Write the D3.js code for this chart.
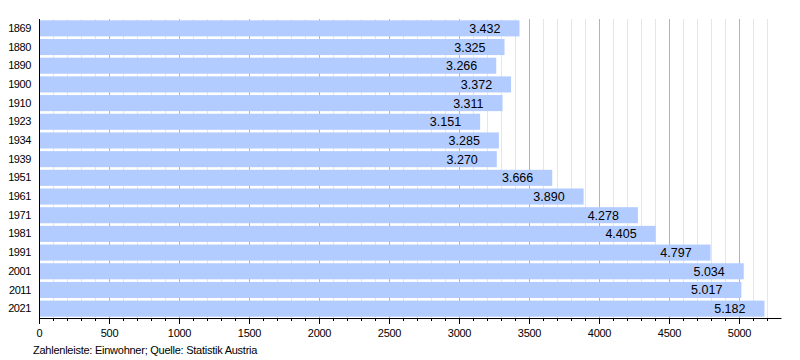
<!DOCTYPE html>
<html><head><meta charset="utf-8">
<script src="https://cdn.jsdelivr.net/npm/d3@7"></script>
<style>body{margin:0;background:#fff}svg{display:block;font-family:"Liberation Sans",Arial,sans-serif}</style>
</head><body>
<svg id="c" width="800" height="360"></svg>
<script>
const years = ["1869","1880","1890","1900","1910","1923","1934","1939","1951","1961","1971","1981","1991","2001","2011","2021"];
const population = [3432,3325,3266,3372,3311,3151,3285,3270,3666,3890,4278,4405,4797,5034,5017,5182];
const majorTicks = [0,500,1000,1500,2000,2500,3000,3500,4000,4500,5000];
const footer = "Zahlenleiste: Einwohner; Quelle: Statistik Austria";

const svg = d3.select("#c");
const mL = 39, mR = 781, mT = 19, mB = 318;
const x = d3.scaleLinear().domain([0,5300]).range([mL,mR]);
const y = d3.scaleBand().domain(years).range([mT,mB]).paddingInner(0.14).paddingOuter(0.07);
const minor = d3.range(100,5300,100).filter(v => v % 500 !== 0);
const fmt = v => d3.format(",")(v).replace(/,/g,".");

svg.append("g").selectAll("line").data(minor).join("line")
  .attr("x1",d=>x(d)+0.5).attr("x2",d=>x(d)+0.5).attr("y1",mT).attr("y2",mB)
  .attr("stroke","#e6e6e6");
svg.append("g").selectAll("line").data(majorTicks.filter(d=>d>0)).join("line")
  .attr("x1",d=>x(d)+0.5).attr("x2",d=>x(d)+0.5).attr("y1",mT).attr("y2",mB)
  .attr("stroke","#b3b3b3");

svg.append("g").selectAll("rect").data(years).join("rect")
  .attr("x",x(0)).attr("y",d=>y(d)).attr("height",y.bandwidth())
  .attr("width",(d,i)=>x(population[i])-x(0)).attr("fill","#b3ccff");

svg.append("g").selectAll("text").data(years).join("text")
  .attr("x",(d,i)=>x(population[i])-19).attr("y",d=>y(d)+y.bandwidth()/2+4.5)
  .attr("text-anchor","end").attr("font-size",12.5).attr("fill","#000")
  .text((d,i)=>fmt(population[i]));

const yAxis = svg.append("g").attr("transform",`translate(${mL},0)`)
  .call(d3.axisLeft(y).tickSize(0).tickPadding(8));
yAxis.select(".domain").attr("stroke","#000").attr("d",`M0.5,${mT}V${mB}`);
yAxis.selectAll("text").attr("font-size",11).attr("letter-spacing",-0.4).attr("font-family","Liberation Sans, Arial, sans-serif");

const xMinor = svg.append("g").attr("transform",`translate(0,${mB})`)
  .call(d3.axisBottom(x).tickValues(minor).tickSize(3).tickFormat(""));
xMinor.select(".domain").remove();
const xAxis = svg.append("g").attr("transform",`translate(0,${mB})`)
  .call(d3.axisBottom(x).tickValues(majorTicks).tickSize(6).tickSizeOuter(0).tickPadding(5).tickFormat(d=>d));
xAxis.select(".domain").attr("stroke","#000");
xAxis.selectAll("text").attr("font-size",11).attr("letter-spacing",-0.3).attr("font-family","Liberation Sans, Arial, sans-serif");
svg.selectAll(".tick line").attr("stroke","#000");

svg.append("text").attr("x",33).attr("y",354).attr("font-size",11).attr("letter-spacing",-0.25).text(footer);
</script>
</body></html>
